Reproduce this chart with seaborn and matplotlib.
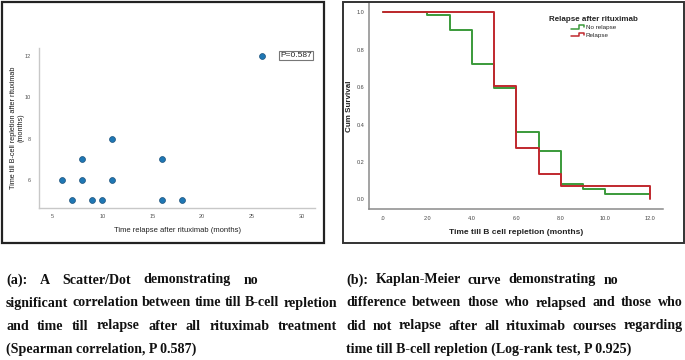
# -*- coding:utf-8 -*-
import numpy as np
import pandas as pd
import matplotlib
matplotlib.use("Agg")
import matplotlib.pyplot as plt
import seaborn as sns
from matplotlib.lines import Line2D
from matplotlib.legend_handler import HandlerBase
from matplotlib.patches import Rectangle

# (a) scatter data
relapse_time = [6, 7, 8, 8, 9, 10, 11, 11, 16, 16, 18, 26]
repletion_time = [6, 5, 7, 6, 5, 5, 8, 6, 7, 5, 5, 12]
p_text_a = "P=0.587"

# (b) Kaplan-Meier data
groups = ["No relapse", "Relapse"]
km_time_no = [0, 2, 3, 4, 5, 6, 7, 8, 9, 10, 12]
km_surv_no = [1.0, 0.984, 0.904, 0.724, 0.597, 0.362, 0.258, 0.082, 0.055, 0.030, 0.030]
km_time_rel = [0, 5, 6, 7, 8, 12, 12]
km_surv_rel = [1.0, 0.604, 0.273, 0.137, 0.073, 0.073, 0.0]
colors = ["#3a9a3a", "#c0282e"]

x_ticks_a = [5, 10, 15, 20, 25, 30]
y_ticks_a = [6, 8, 10, 12]
x_ticks_b = [0, 2, 4, 6, 8, 10, 12]
x_labels_b = [".0", "2.0", "4.0", "6.0", "8.0", "10.0", "12.0"]
y_ticks_b = [0.0, 0.2, 0.4, 0.6, 0.8, 1.0]
y_labels_b = ["0.0", "0.2", "0.4", "0.6", "0.8", "1.0"]

caption_a = ["(a): A Scatter/Dot demonstrating no",
             "significant correlation between time till B-cell repletion",
             "and time till relapse after all rituximab treatment",
             "(Spearman correlation, P 0.587)"]
caption_b = ["(b): Kaplan-Meier curve demonstrating no",
             "difference between those who relapsed and those who",
             "did not relapse after all rituximab courses regarding",
             "time till B-cell repletion (Log-rank test, P 0.925)"]

sns.set_style("white")
plt.rcParams['font.family'] = ['Liberation Sans', 'DejaVu Sans']

W, H = 685, 360
fig = plt.figure(figsize=(W / 100, H / 100), dpi=100)


def px(x0, y0, x1, y1):
    return [x0 / W, 1 - y1 / H, (x1 - x0) / W, (y1 - y0) / H]


# panel frames
fig.add_artist(Rectangle((2 / W, 1 - 243 / H), 322 / W, 241 / H, transform=fig.transFigure,
                         fill=False, lw=1.6, ec="#222222"))
fig.add_artist(Rectangle((343 / W, 1 - 243 / H), 341 / W, 241 / H, transform=fig.transFigure,
                         fill=False, lw=1.4, ec="#333333"))

# ---- (a) scatter ----
ax1 = fig.add_axes(px(39, 48, 315, 208))
sns.scatterplot(x=relapse_time, y=repletion_time, ax=ax1, color="#1f77b4", s=18,
                edgecolor="#1a4f7a", linewidth=0.5, zorder=3)
ax1.set_xlim(3.67, 31.3)
ax1.set_ylim(4.63, 12.4)
ax1.set_xticks(x_ticks_a)
ax1.set_yticks(y_ticks_a)
ax1.tick_params(length=0, labelsize=4, colors="#555555", pad=4)
ax1.tick_params(axis="y", pad=6)
for s in ["top", "right"]:
    ax1.spines[s].set_visible(False)
for s in ["left", "bottom"]:
    ax1.spines[s].set_color("#c8c8c8")
    ax1.spines[s].set_linewidth(1.0)
ax1.set_xlabel("Time relapse after rituximab (months)", fontsize=5.5, color="#222222", labelpad=6)
ax1.set_ylabel("Time till B-cell repletion after rituximab\n(months)", fontsize=5.2,
               color="#1a1a1a", labelpad=0, linespacing=1.05)
fig.text(296 / W, 1 - 55.5 / H, p_text_a, ha="center", va="center", fontsize=6, color="#222222",
         bbox=dict(boxstyle="square,pad=0.15", fc="white", ec="#777777", lw=0.8))

# ---- (b) Kaplan-Meier ----
km = pd.DataFrame({
    "time": km_time_no + km_time_rel,
    "surv": km_surv_no + km_surv_rel,
    "group": [groups[0]] * len(km_time_no) + [groups[1]] * len(km_time_rel),
})
ax2 = fig.add_axes(px(369, 3, 663, 209))
sns.lineplot(data=km, x="time", y="surv", hue="group", hue_order=groups, palette=colors,
             estimator=None, sort=False, drawstyle="steps-post", lw=1.4, ax=ax2, legend=False)
ax2.set_xlim(-0.63, 12.6)
ax2.set_ylim(-0.052, 1.05)
ax2.set_xticks(x_ticks_b)
ax2.set_xticklabels(x_labels_b)
ax2.set_yticks(y_ticks_b)
ax2.set_yticklabels(y_labels_b)
ax2.tick_params(length=0, labelsize=4, colors="#444444", pad=5)
ax2.tick_params(axis="y", pad=3)
for s in ["top", "right"]:
    ax2.spines[s].set_visible(False)
for s in ["left", "bottom"]:
    ax2.spines[s].set_color("#8a8a8a")
    ax2.spines[s].set_linewidth(1.1)
ax2.set_xlabel("Time till B cell repletion (months)", fontsize=6.0, fontweight="bold",
               color="#222222", labelpad=6)
ax2.set_ylabel("Cum Survival", fontsize=5.8, fontweight="bold", color="#222222", labelpad=3)


class StepHandler(HandlerBase):
    def create_artists(self, legend, orig_handle, xdescent, ydescent, width, height, fontsize, trans):
        xs = np.array([0, 0.55, 0.55, 0.9, 0.9]) * width - xdescent
        ys = np.array([0.1, 0.1, 0.9, 0.9, 0.45]) * height - ydescent
        ln = Line2D(xs, ys, color=orig_handle.get_color(), lw=1.1, transform=trans)
        return [ln]


handles = [Line2D([], [], color=c) for c in colors]
leg = ax2.legend(handles, groups, title="Relapse after rituximab", frameon=False,
                 loc="upper left", bbox_to_anchor=(546 / W, 1 - 13 / H), bbox_transform=fig.transFigure,
                 fontsize=4.5, handlelength=2.3, handletextpad=0.1, labelspacing=0.3, borderpad=0,
                 handler_map={Line2D: StepHandler()})
leg.get_title().set_fontweight("bold")
leg.get_title().set_fontsize(5.8)

# ---- captions (justified) ----
fig.canvas.draw()
renderer = fig.canvas.get_renderer()
cap_kw = dict(fontfamily="Liberation Serif", fontweight="bold", va="center", color="#111111")

probe = fig.text(0, 0, caption_a[1], fontsize=10, **cap_kw)
cap_fs = 10 * 331 / probe.get_window_extent(renderer).width
probe.remove()


def put_line(line, x0, x1, y, justify=True):
    if not justify:
        fig.text(x0 / W, 1 - y / H, line, fontsize=cap_fs, **cap_kw)
        return
    words = line.split()
    texts = [fig.text(0, 1 - y / H, w, fontsize=cap_fs, **cap_kw) for w in words]
    widths = [t.get_window_extent(renderer).width for t in texts]
    gap = (x1 - x0 - sum(widths)) / (len(words) - 1)
    x = x0
    for t, w in zip(texts, widths):
        t.set_x(x / W)
        x += w + gap


ys = [280, 303, 326, 349]
a_ends = [258, 337, 337]
b_ends = [618, 683, 683]
for i in range(3):
    put_line(caption_a[i], 6, a_ends[i], ys[i])
    put_line(caption_b[i], 346, b_ends[i], ys[i])
put_line(caption_a[3], 6, None, ys[3], justify=False)
put_line(caption_b[3], 346, None, ys[3], justify=False)

fig.savefig("out.png", dpi=100, facecolor="white")
